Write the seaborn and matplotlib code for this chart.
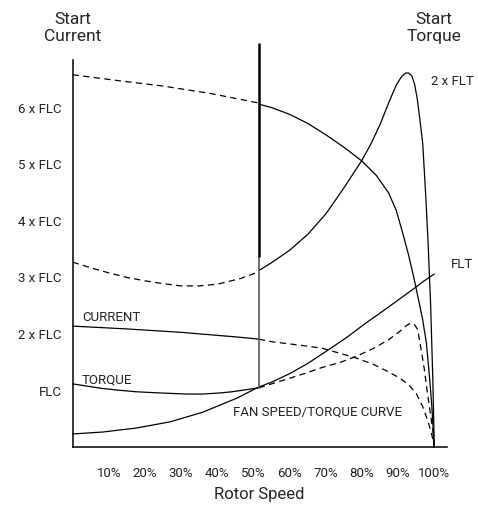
import matplotlib
matplotlib.use("Agg")
import matplotlib.pyplot as plt
import pandas as pd
import seaborn as sns

# Datos (x = % velocidad, y = multiplos de FLC)
dol_cur_x = [0, 12, 25, 38, 51.5]
dol_cur_y = [6.58, 6.48, 6.38, 6.25, 6.08]

dol_cur2_x = [51.5, 55, 60, 65, 70, 75, 79.9, 84, 87.4, 89.5, 91.2, 92.8, 94.3, 95.6, 96.8, 97.8, 98.6, 99.3, 100]
dol_cur2_y = [6.06, 6.0, 5.88, 5.72, 5.52, 5.30, 5.06, 4.80, 4.49, 4.18, 3.80, 3.42, 3.01, 2.62, 2.25, 1.85, 1.30, 0.75, 0.0]

dol_trq_x = [0, 5, 10, 15, 20, 25, 30, 35, 40, 46.4, 51.5]
dol_trq_y = [3.27, 3.17, 3.08, 3.0, 2.94, 2.89, 2.85, 2.85, 2.88, 2.98, 3.1]

dol_trq2_x = [51.7, 55, 60, 65, 70, 75, 79.9, 82.5, 85, 87.5, 89.5, 91, 92.1, 92.9, 93.8, 94.6, 95.3, 96, 96.8, 97.6, 98.3, 99.0, 99.6, 100]
dol_trq2_y = [3.13, 3.26, 3.48, 3.76, 4.12, 4.58, 5.06, 5.36, 5.70, 6.10, 6.40, 6.55, 6.61, 6.61, 6.56, 6.40, 6.15, 5.80, 5.37, 4.49, 3.60, 2.50, 1.20, 0.0]

ss_cur_x = [0, 15, 30, 45, 51.5]
ss_cur_y = [2.14, 2.09, 2.03, 1.95, 1.91]

ss_cur2_x = [51.5, 55.5, 62, 69, 78.2, 83, 87.4, 90.5, 93, 95, 96.8, 98.3, 99.4, 100]
ss_cur2_y = [1.91, 1.86, 1.81, 1.75, 1.58, 1.47, 1.33, 1.22, 1.10, 0.95, 0.72, 0.45, 0.2, 0.0]

ss_trq_x = [0, 4, 8, 12.5, 17.6, 24, 31.6, 36, 40.8, 44, 47.2, 51.5]
ss_trq_y = [1.12, 1.08, 1.04, 1.01, 0.98, 0.96, 0.94, 0.94, 0.96, 0.98, 1.01, 1.05]

ss_trq2_x = [51.5, 55.5, 59.6, 64, 69, 74, 78.2, 83, 87.4, 90.5, 92.3, 93.4, 94.5, 95.4, 96.3, 97.2, 98.0, 98.8, 99.6, 100]
ss_trq2_y = [1.05, 1.13, 1.21, 1.30, 1.41, 1.50, 1.60, 1.74, 1.90, 2.05, 2.15, 2.19, 2.17, 2.08, 1.75, 1.40, 1.01, 0.65, 0.30, 0.0]

fan_x = [0, 8.4, 17.6, 27, 36, 45.5, 51.3, 55, 60, 65, 70.7, 76, 81, 85, 90, 94.3, 97, 100]
fan_y = [0.235, 0.27, 0.34, 0.45, 0.62, 0.87, 1.06, 1.15, 1.30, 1.48, 1.72, 1.95, 2.19, 2.37, 2.60, 2.80, 2.93, 3.06]

switch_x = 51.5
switch_thick = [3.36, 7.14]
switch_thin = [1.05, 3.36]

x_ticks = [10, 20, 30, 40, 50, 60, 70, 80, 90, 100]
x_labels = ["10%", "20%", "30%", "40%", "50%", "60%", "70%", "80%", "90%", "100%"]
y_ticks = [1, 2, 3, 4, 5, 6]
y_labels = ["FLC", "2 x FLC", "3 x FLC", "4 x FLC", "5 x FLC", "6 x FLC"]

sns.set_style("white")
plt.rcParams["font.family"] = ["Roboto", "DejaVu Sans"]

fig = plt.figure(figsize=(4.78, 5.15), dpi=100)
ax = fig.add_axes([0.152, 0.1315, 0.783, 0.752])

lw = 0.9
dash = (5, 3.5)

def curva(xs, ys, dashed=False):
    d = pd.DataFrame({"x": xs, "y": ys})
    sns.lineplot(data=d, x="x", y="y", ax=ax, color="black", linewidth=lw)
    line = ax.lines[-1]
    if dashed:
        line.set_dashes(dash)
    line.set_clip_on(False)
    line.set_solid_joinstyle("round")

curva(dol_cur_x, dol_cur_y, dashed=True)
curva(dol_cur2_x, dol_cur2_y)
curva(dol_trq_x, dol_trq_y, dashed=True)
curva(dol_trq2_x, dol_trq2_y)
curva(ss_cur_x, ss_cur_y)
curva(ss_cur2_x, ss_cur2_y, dashed=True)
curva(ss_trq_x, ss_trq_y)
curva(ss_trq2_x, ss_trq2_y, dashed=True)
curva(fan_x, fan_y)

ax.vlines(switch_x, switch_thick[0], switch_thick[1], color="black", linewidth=1.8, clip_on=False)
ax.vlines(switch_x, switch_thin[0], switch_thin[1], color="#555555", linewidth=1.2, clip_on=False)

ax.set_xlim(0, 103.5)
ax.set_ylim(0, 6.84)
ax.set_xticks(x_ticks)
ax.set_xticklabels(x_labels)
ax.set_yticks(y_ticks)
ax.set_yticklabels(y_labels)
ax.set_xlabel("")
ax.set_ylabel("")

for s in ["top", "right"]:
    ax.spines[s].set_visible(False)
for s in ["left", "bottom"]:
    ax.spines[s].set_color("black")
    ax.spines[s].set_linewidth(1.1)

ax.tick_params(axis="both", which="major", direction="out", length=4, width=0.9,
               color="black", labelsize=9.5, labelcolor="#222222")
ax.tick_params(axis="x", pad=10)
ax.tick_params(axis="y", pad=4)

# Textos
ax.text(2.6, 2.30, "CURRENT", fontsize=9.5, va="center", ha="left", color="#222222")
ax.text(2.6, 1.19, "TORQUE", fontsize=9.5, va="center", ha="left", color="#222222")
ax.text(44.4, 0.62, "FAN SPEED/TORQUE CURVE", fontsize=9.5, va="center", ha="left", color="#222222")
ax.text(99.0, 6.46, "2 x FLT", fontsize=9.5, va="center", ha="left", color="#222222")
ax.text(104.5, 3.22, "FLT", fontsize=9.5, va="center", ha="left", color="#222222")

ax.annotate("Start\nCurrent", xy=(0, 1.083), xycoords=("data", "axes fraction"),
            ha="center", va="center", fontsize=12.5, linespacing=1.2, annotation_clip=False)
ax.annotate("Start\nTorque", xy=(100, 1.083), xycoords=("data", "axes fraction"),
            ha="center", va="center", fontsize=12.5, linespacing=1.2, annotation_clip=False)

fig.text(259.5 / 478, 1 - 494 / 515, "Rotor Speed", ha="center", va="center", fontsize=12)

fig.savefig("out.png", dpi=100)
